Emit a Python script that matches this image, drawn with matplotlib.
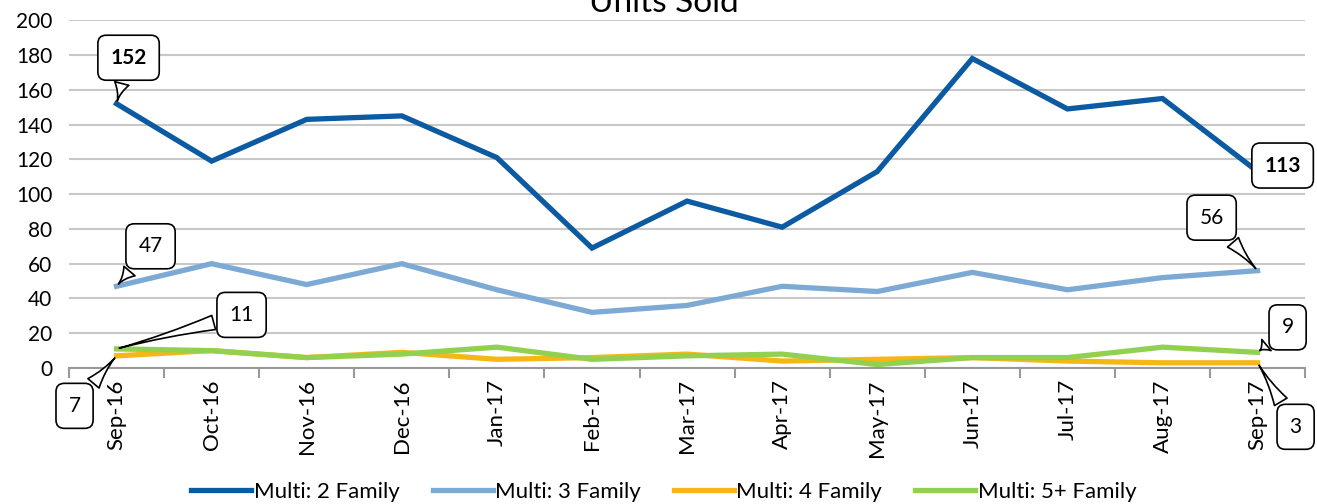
import matplotlib
matplotlib.use("Agg")
import matplotlib.pyplot as plt
import numpy as np

plt.rcParams['font.family'] = ['Lato', 'DejaVu Sans']

months = ['Sep-16', 'Oct-16', 'Nov-16', 'Dec-16', 'Jan-17', 'Feb-17', 'Mar-17',
          'Apr-17', 'May-17', 'Jun-17', 'Jul-17', 'Aug-17', 'Sep-17']
multi_2 = [152, 119, 143, 145, 121, 69, 96, 81, 113, 178, 149, 155, 113]
multi_3 = [47, 60, 48, 60, 45, 32, 36, 47, 44, 55, 45, 52, 56]
multi_4 = [7, 10, 6, 9, 5, 6, 8, 4, 5, 6, 4, 3, 3]
multi_5 = [11, 10, 6, 8, 12, 5, 7, 8, 2, 6, 6, 12, 9]

series = [('Multi: 2 Family', multi_2, '#0B5AA2'),
          ('Multi: 3 Family', multi_3, '#7DAAD4'),
          ('Multi: 4 Family', multi_4, '#F5B716'),
          ('Multi: 5+ Family', multi_5, '#92D050')]

fig = plt.figure(figsize=(13.17, 5.04), dpi=100)
ax = fig.add_axes([0.0524, 0.2698, 0.9386, 0.690])

x = np.arange(len(months))
for name, vals, col in series:
    ax.plot(x, vals, color=col, lw=3.8, label=name, solid_joinstyle='miter')

# callout labels: (series values, index, pixel offset, bold)
callouts = [(multi_2, 0, (12, 46), True),
            (multi_3, 0, (34, 40), False),
            (multi_5, 0, (125, 34), False),
            (multi_4, 0, (-42, -50), False),
            (multi_3, 12, (-46, 53), False),
            (multi_2, 12, (25, 6), True),
            (multi_5, 12, (30, 25), False),
            (multi_4, 12, (38, -64), False)]
for vals, i, off, bold in callouts:
    ax.annotate(str(vals[i]), xy=(x[i], vals[i]), xytext=off,
                textcoords='offset pixels', ha='center', va='center',
                fontsize=15, fontweight='bold' if bold else 'normal',
                bbox=dict(boxstyle='round,pad=0.6,rounding_size=0.4', fc='white', ec='black', lw=1.2),
                arrowprops=dict(arrowstyle='wedge,tail_width=0.7,shrink_factor=0.3',
                                fc='white', ec='black', lw=1.2),
                annotation_clip=False, zorder=5)

ax.set_xlim(-0.5, 12.5)
ax.set_ylim(0, 200)
ax.set_yticks(np.arange(0, 201, 20))
ax.set_xticks(x)
ax.set_xticklabels(months, rotation=90, fontsize=16)
ax.set_xticks(np.arange(-0.5, 13, 1), minor=True)
ax.tick_params(axis='x', which='major', length=0, pad=8)
ax.tick_params(axis='x', which='minor', length=7, color='#999999', width=1.5)
ax.tick_params(axis='y', length=0, labelsize=15, pad=12)
ax.grid(axis='y', color='#C8C8C8', lw=1.5)
ax.set_axisbelow(True)
for s in ['top', 'right', 'left']:
    ax.spines[s].set_visible(False)
ax.spines['bottom'].set_color('#999999')
ax.spines['bottom'].set_linewidth(1.5)

fig.text(0.504, 1 - 12 / 504, 'Units Sold', ha='center', va='baseline', fontsize=24)

fig.legend(loc='lower center', bbox_to_anchor=(0.504, -0.035), ncol=4, frameon=False,
           fontsize=16, handlelength=2.7, handletextpad=0.1, columnspacing=1.5)

fig.savefig('out.png', dpi=100)
